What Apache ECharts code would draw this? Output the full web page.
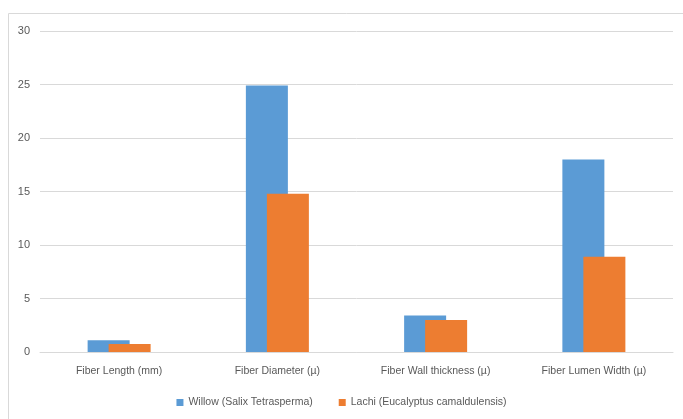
<!DOCTYPE html>
<html>
	<head>
		<meta charset="UTF-8">
		<title></title>
		<script src="https://cdn.jsdelivr.net/npm/echarts@6/dist/echarts.min.js"></script>
	</head>
	<body style="margin:0;background:#fff;">
		<div id="fiber_chart" style="width:683px;height:419px;"></div>
		<script>
			// 数据
			var categories = ['Fiber Length (mm)', 'Fiber Diameter (\u00b5)', 'Fiber Wall thickness (\u00b5)', 'Fiber Lumen Width (\u00b5)'];
			var willow = [1.1, 24.9, 3.4, 18.0];
			var lachi = [0.75, 14.8, 3.0, 8.9];
			var seriesNames = ['Willow (Salix Tetrasperma)', 'Lachi (Eucalyptus camaldulensis)'];

			var textColor = '#595959';
			var fontFam = '"Liberation Sans", Arial, sans-serif';

			var option = {
				animation: false,
				color: ['#5B9BD5', '#ED7D31'],
				textStyle: {fontFamily: fontFam},
				graphic: [{
					type: 'rect',
					shape: {x: 8.5, y: 13.5, width: 700, height: 500},
					style: {fill: 'none', stroke: '#d9d9d9', lineWidth: 1},
					silent: true
				}],
				grid: {left: 40, right: 10, top: 31, bottom: 67},
				legend: {
					bottom: 6,
					left: 'center',
					itemWidth: 7,
					itemHeight: 7,
					itemGap: 26,
					icon: 'rect',
					textStyle: {color: textColor, fontSize: 10.5, fontFamily: fontFam},
					data: seriesNames
				},
				xAxis: {
					type: 'category',
					data: categories,
					axisTick: {show: false},
					axisLine: {lineStyle: {color: '#d9d9d9'}},
					axisLabel: {color: textColor, fontSize: 10.5, margin: 14, interval: 0}
				},
				yAxis: {
					type: 'value',
					min: 0,
					max: 30,
					interval: 5,
					axisLine: {show: false},
					axisTick: {show: false},
					axisLabel: {color: textColor, fontSize: 11, margin: 10},
					splitLine: {lineStyle: {color: '#d9d9d9'}}
				},
				series: [{
					name: seriesNames[0],
					type: 'bar',
					barWidth: 42,
					barGap: '-50%',
					data: willow
				}, {
					name: seriesNames[1],
					type: 'bar',
					barWidth: 42,
					barGap: '-50%',
					data: lachi
				}]
			};

			var myChart = echarts.init(document.getElementById('fiber_chart'));
			myChart.setOption(option, true);
		</script>
	</body>
</html>
